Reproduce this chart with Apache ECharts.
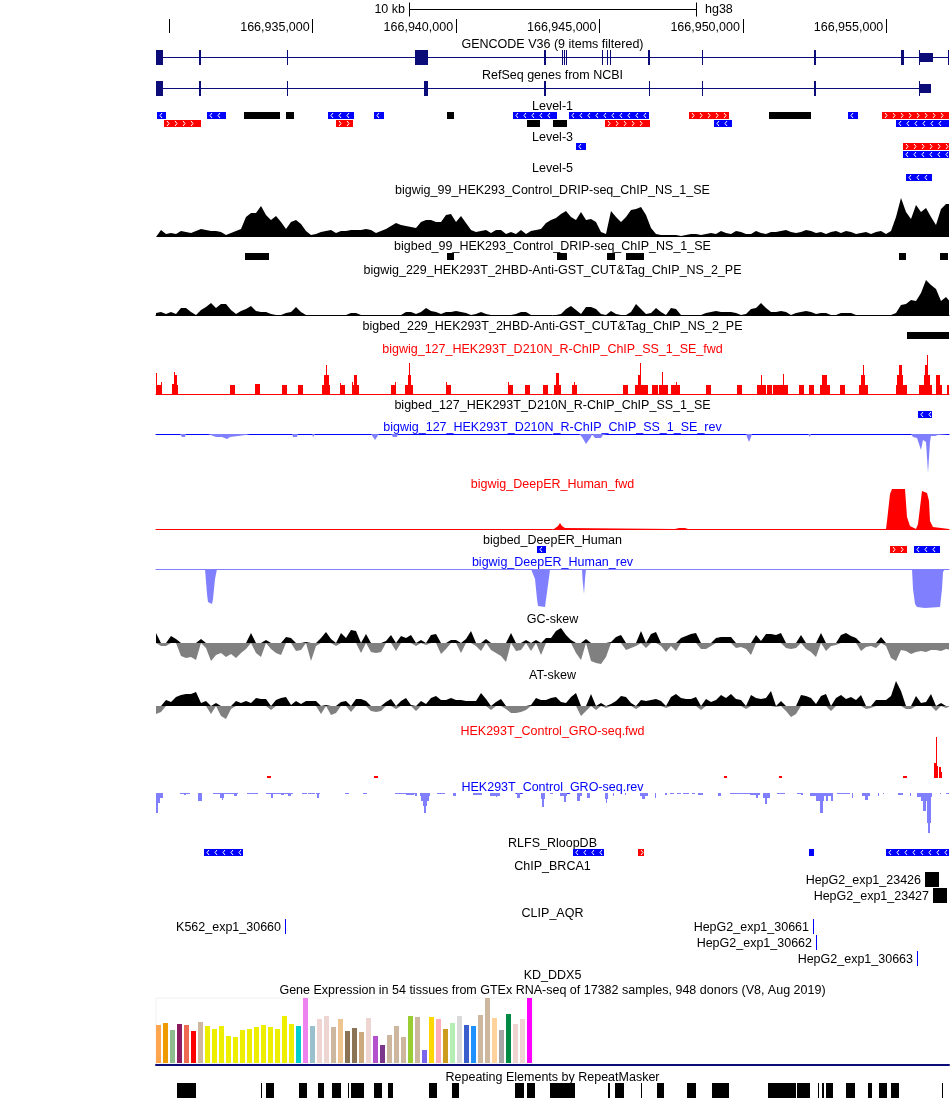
<!DOCTYPE html>
<html><head><meta charset="utf-8">
<style>html,body{margin:0;padding:0;background:#fff}#c{width:950px;height:1099px}</style>
<script src="https://cdn.jsdelivr.net/npm/echarts@6/dist/echarts.min.js"></script></head>
<body><div id="c"></div>
<script>
// Genomic window: 793 display bins of about 34.87 bp each.
const VIEW_START=166929536, BP_PER_BIN=34.868, VIEW_BINS=793, DENSE_STEP=5;
const rulerTicks=[166930000,166935000,166940000,166945000,166950000,166955000];
const rulerLabels=[166935000,166940000,166945000,166950000,166955000];
const scaleBar=[[253.5,10000]];

const gencodeParts=[[0,793,'line'],[0,7,'cds'],[43,45,'cds'],[131,132,'cds'],[259,272,'cds'],[387.5,389.5,'cds'],[406,407,'cds'],[408,409,'cds'],[410,411,'cds'],[446,447,'cds'],[451,452,'cds'],[454,455,'cds'],[491.5,493.5,'cds'],[546,547,'cds'],[658,660,'cds'],[745,748,'cds'],[762.5,764,'cds'],[764,777,'utr'],[791.5,793,'cds']];
const refseqParts=[[0,775,'line'],[0,7,'cds'],[43,45,'cds'],[131,132,'cds'],[268,272,'cds'],[387.5,389.5,'cds'],[492.5,493.5,'cds'],[546,547,'cds'],[658,660,'cds'],[762.5,764,'cds'],[764,775,'utr']];

// [start bin, end bin, strand, lane]
const level1=[[1,10,'-',0],[51,70,'-',0],[88,124,'.',0],[130,138,'.',0],[172,198,'-',0],[218,228,'-',0],[291,298,'.',0],[357,401,'-',0],[413,493,'-',0],[533,573,'+',0],[613,655,'.',0],[692,702,'-',0],[726,793,'+',0],
 [8,45,'+',1],[180,197,'+',1],[371,384,'.',1],[397,411,'.',1],[449,494,'+',1],[558,576,'-',1],[740,793,'-',1]];
const level3=[[420,430,'-',0],[747,793,'+',0],[747,793,'-',1]];
const level5=[[750,776,'-',0]];
const bigbed99=[[89,113,'.',0],[291,298,'.',0],[401,411,'.',0],[451,459,'.',0],[470,488,'.',0],[743,750,'.',0],[784,792,'.',0]];
const bigbed229=[[751,793,'.',0]];
const bigbed127=[[762,776,'-',0]];
const bigbedDeepER=[[381,390,'-',0],[734,751,'+',0],[758,784,'-',0]];
const rloopDB=[[48,87,'-',0],[417,448,'-',0],[482,488,'+',0],[653,658,'-',0],[730,793,'-',0]];
const repeatMasker=[[21,40],[105,106],[110,118],[143,151],[162,168],[176,185],[192,193],[195,208],[218,226],[232,237],[273,281],[296,303],[359,368],[371,379],[394,419],[452,454],[459,468],[485,486],[501,508],[531,540],[556,573],[612,640],[641,654],[662,663],[666,668],[670,677],[690,699],[712,716],[723,731],[735,743],[786,787]].map(r=>[r[0],r[1],'.',0]);
const brca1Items=[[769,783,'.',0,'HepG2_exp1_23426'],[777,791,'.',1,'HepG2_exp1_23427']];
const aqrItems=[[129,130,'b',0,'K562_exp1_30660'],[657,658,'b',0,'HepG2_exp1_30661'],[660,661,'b',1,'HepG2_exp1_30662'],[761,762,'b',2,'HepG2_exp1_30663']];

// Signal heights sampled every DENSE_STEP bins
const drip99=[0,7,3,4,3,6,5,4,6,8,7,6,6,5,2,4,6,8,20,24,24,31,22,17,21,15,8,15,17,13,6,2,3,5,6,7,4,6,6,7,7,7,8,7,4,6,8,11,14,12,11,10,9,15,17,17,15,15,22,23,15,21,14,7,5,6,7,4,7,7,3,5,3,7,3,6,7,8,14,17,19,23,26,20,17,25,17,18,15,5,3,26,20,15,20,27,28,30,22,9,3,2,2,2,2,1,2,3,3,2,3,4,3,6,4,3,6,5,3,3,6,4,3,5,5,6,7,5,4,5,7,6,4,5,3,5,6,4,6,5,3,4,5,3,5,6,3,6,20,39,25,18,32,25,29,20,12,28,33,33];
const cut229=[2,3,1,3,1,7,7,3,0,5,8,12,7,11,11,5,1,4,6,9,4,3,3,1,0,0,2,3,8,3,0,0,0,0,0,0,0,0,0,2,2,0,0,0,0,0,0,0,0,0,3,3,1,3,7,4,3,1,3,3,4,3,2,0,1,3,1,0,0,0,0,0,1,3,3,0,0,0,0,0,0,1,6,9,5,1,8,8,6,1,0,4,1,0,0,3,11,6,1,2,7,3,0,7,6,0,0,0,0,0,2,3,4,3,3,3,2,0,1,6,7,12,7,3,3,4,3,0,2,3,4,3,1,2,2,0,0,2,2,2,0,0,0,0,0,0,0,0,2,10,11,15,14,22,35,30,26,14,18,12];
const gcSkew=[10,-3,-3,7,4,-13,-15,-14,-17,4,-5,-18,-12,-10,-14,-11,-15,-10,-6,10,-10,-14,3,-6,-10,-12,6,5,-8,-7,1,-18,-3,5,11,4,-3,10,5,13,12,-10,9,-9,-10,-9,2,8,-8,7,5,8,-3,3,-2,8,9,-11,-6,3,3,-10,4,12,-3,-8,4,-7,-10,-13,-19,10,-8,-7,3,-8,3,-12,5,
5,12,15,8,3,-10,-17,4,-18,-20,-21,-14,1,6,8,-7,-5,-3,12,-5,9,11,-3,-9,-3,-8,5,7,9,10,-6,-6,-3,5,6,6,6,-5,-4,-6,-12,8,2,9,9,8,10,-5,-6,-5,8,-6,-9,-14,10,-8,-3,-2,8,10,7,5,-8,-4,-3,-5,6,-3,-15,-18,-7,-8,-11,-9,-8,-9,-7,-7,-8,-6,-7];
const atSkew=[-8,-6,6,4,9,11,12,12,14,3,5,-8,3,-10,-13,-3,5,3,5,3,8,7,7,-4,6,8,9,1,5,2,5,5,5,-8,1,-9,-7,4,5,-6,7,7,5,-5,-6,-5,4,7,-3,5,8,1,-5,5,2,8,10,6,6,8,6,6,5,5,5,13,7,-4,4,7,-3,-7,-7,-6,-4,1,8,6,6,
8,9,4,3,9,13,-10,-5,12,-4,3,-2,2,5,10,9,3,-3,6,5,6,7,5,-2,9,12,8,7,7,9,-4,7,4,6,11,8,12,7,6,-3,11,8,7,8,15,-1,5,-5,-11,-8,11,10,8,2,10,12,-5,8,11,7,9,6,11,-3,-2,6,6,6,10,25,15,-3,-3,10,3,4,12,-5,3,-2,2];

// Sparse signal as [bin, height]
const rchipRev=[[0,0],[24,0],[26,3],[27,4],[29,3],[30,0],[52,0],[54,2],[60,3],[66,3],[71,5],[74,3],[76,1],[90,1],[94,0],[136,0],[137,3],[141,3],[142,0],[156,0],[157,3],[159,0],[215,0],[217,2],[219,6],[221,3],[223,0],[235,0],[237,3],[241,3],[242,0],[321,0],[322,2],[323,0],[423,0],[426,3],[430,10],[435,3],[436,0],[439,4],[445,4],[447,1],[452,0],[590,0],[591,3],[593,8],[595,3],[596,0],[627,0],[629,1],[631,0],[652,0],[654,3],[655,0],[755,0],[757,3],[761,4],[763,10],[765,16],[767,6],[769,6],[770,8],[772,39],[774,8],[775,2],[779,2],[780,0],[782,1],[783,0],[793,0]];
const deepFwd=[[0,0],[398,0],[399,1],[402,3],[404,6],[406,3],[409,1],[411,0],[519,0],[523,1],[525,2],[529,1],[532,0],[730,0],[731,8],[734,35],[736,40],[749,40],[751,12],[754,3],[760,0],[762,5],[766,38],[771,36],[773,28],[774,8],[777,2],[793,0]];
const deepRev=[[0,0],[49,0],[51,25],[52,33],[56,35],[57,30],[59,10],[61,0],[375,0],[379,10],[381,30],[382,37],[389,38],[391,38],[394,1],[396,0],[426,0],[426.5,10],[428,25],[429,10],[430,0],[756,0],[757,20],[759,35],[761,38],[769,39],[784,38],[786,20],[787,3],[789,0],[793,0]];

// Blocky signal as [start bin, end bin, height]
const rchipFwd=[[0,1,21],[1,5,9],[5,6,12],[16,18,10],[18,19,22],[19,21,19],[21,22,9],[74,79,9],[99,104,10],[126,131,9],[142,147,9],[166,174,9],[168,170,19],[170,171,29],[171,173,19],[184,189,9],[184,185,11],[196,203,9],[198,201,19],[196,197,12],[235,240,9],[239,240,12],[249,257,9],[252,255,19],[253,254,31],[290,295,9],[290,291,12],[352,357,9],[352,353,12],[369,374,9],[387,392,9],[398,405,9],[400,403,21],[416,421,9],[418,419,12],[467,472,9],[479,492,9],[482,485,19],[484,485,31],[496,502,9],[503,512,9],[506,507,22],[515,524,9],[520,521,12],[550,555,9],[581,586,9],[601,610,9],[605,606,19],[611,616,9],[617,622,9],[622,632,9],[627,628,20],[643,648,9],[653,658,9],[664,674,9],[666,671,19],[684,689,9],[703,712,9],[705,709,19],[707,708,29],[740,751,9],[741,747,19],[743,746,29],[763,776,9],[768,774,19],[769,772,29],[771,772,39],[780,786,9],[780,784,19],[791,793,9]];
const groFwd=[[111,115,2],[218,222,2],[568,571,2],[623,626,2],[747,751,2],[778,780,15],[780,781,41],[781,782,12],[783,785,11],[785,786,6]];
const groRev=[[0,2,20],[2,4,10],[4,7,5],[24,34,1],[28,30,2],[42,46,8],[57,82,1],[64,68,5],[66,67,7],[78,81,3],[91,102,1],[110,137,1],[115,117,5],[125,128,2],[132,135,3],[146,151,1],[152,159,1],[160,164,1],[161,163,5],[189,193,1],[207,211,1],[239,261,1],[250,258,2],[259,261,3],[264,274,3],[265,273,8],[267,271,13],[268,270,20],[281,289,1],[297,300,3],[317,326,2],[334,344,3],[340,341,4],[361,364,5],[385,389,6],[386,388,14],[394,397,1],[404,411,3],[408,410,9],[421,426,3],[421,424,8],[431,434,5],[449,452,6],[450,451,10],[457,458,3],[469,470,2],[484,492,3],[486,489,6],[499,500,5],[509,511,2],[514,518,1],[521,525,1],[527,533,1],[536,539,1],[542,547,2],[562,565,3],[574,594,1],[594,604,2],[600,602,5],[607,614,5],[609,611,11],[621,629,1],[641,647,1],[645,647,2],[654,672,3],[660,668,8],[664,667,20],[669,677,3],[670,672,8],[675,677,8],[681,694,1],[696,697,5],[706,714,3],[709,712,7],[722,723,3],[727,728,1],[742,747,2],[754,755,3],[761,776,4],[765,774,8],[767,770,18],[771,775,30],[772,774,40],[784,785,1],[790,793,1]];

const gtexTissues=['Adipose - Subcutaneous','Adipose - Visceral','Adrenal Gland','Artery - Aorta','Artery - Coronary','Artery - Tibial','Bladder','Brain - Amygdala','Brain - Anterior cingulate','Brain - Caudate','Brain - Cerebellar Hemisphere','Brain - Cerebellum','Brain - Cortex','Brain - Frontal Cortex','Brain - Hippocampus','Brain - Hypothalamus','Brain - Nucleus accumbens','Brain - Putamen','Brain - Spinal cord','Brain - Substantia nigra','Breast','Cells - EBV lymphocytes','Cells - Fibroblasts','Cervix - Ectocervix','Cervix - Endocervix','Colon - Sigmoid','Colon - Transverse','Esophagus - GEJ','Esophagus - Mucosa','Esophagus - Muscularis','Fallopian Tube','Heart - Atrial','Heart - Ventricle','Kidney - Cortex','Kidney - Medulla','Liver','Lung','Salivary Gland','Muscle','Nerve','Ovary','Pancreas','Pituitary','Prostate','Skin - Not exposed','Skin - Exposed','Small Intestine','Spleen','Stomach','Testis','Thyroid','Uterus','Vagina','Whole Blood'];
const gtexValues=[38,40,33,39,38,32,41,37,34,37,27,26,33,34,36,38,36,34,47,39,37,65,37,44,47,36,44,32,35,31,45,27,18,28,37,26,47,46,13,46,44,34,40,47,38,37,48,65,45,33,49,39,44,65];
const gtexColors=['#FFA54F','#EE9A00','#8FBC8F','#8B1C62','#EE6A50','#FF0000','#CDB79E','#EEEE00','#EEEE00','#EEEE00','#EEEE00','#EEEE00','#EEEE00','#EEEE00','#EEEE00','#EEEE00','#EEEE00','#EEEE00','#EEEE00','#EEEE00','#00CDCD','#EE82EE','#9AC0CD','#EED5D2','#EED5D2','#CDB79E','#EEC591','#8B7355','#8B7355','#CDAA7D','#EED5D2','#B452CD','#7A378B','#CDB79E','#CDB79E','#CDB79E','#9ACD32','#CDB79E','#7A67EE','#FFD700','#FFAEB9','#CD9B1D','#B4EEB4','#D9D9D9','#3A5FCD','#1E90FF','#CDB79E','#CDB79E','#FFD39B','#A6A6A6','#008B45','#EED5D2','#EED5D2','#FF00FF'];

const trackLabels=[['GENCODE V36 (9 items filtered)',45,'#000'],['RefSeq genes from NCBI',76,'#000'],['Level-1',107,'#000'],['Level-3',138,'#000'],['Level-5',169,'#000'],['bigwig_99_HEK293_Control_DRIP-seq_ChIP_NS_1_SE',191,'#000'],['bigbed_99_HEK293_Control_DRIP-seq_ChIP_NS_1_SE',247,'#000'],['bigwig_229_HEK293T_2HBD-Anti-GST_CUT&Tag_ChIP_NS_2_PE',271,'#000'],['bigbed_229_HEK293T_2HBD-Anti-GST_CUT&Tag_ChIP_NS_2_PE',327,'#000'],['bigwig_127_HEK293T_D210N_R-ChIP_ChIP_SS_1_SE_fwd',350,'#f00'],['bigbed_127_HEK293T_D210N_R-ChIP_ChIP_SS_1_SE',406,'#000'],['bigwig_127_HEK293T_D210N_R-ChIP_ChIP_SS_1_SE_rev',428,'#00f'],['bigwig_DeepER_Human_fwd',485,'#f00'],['bigbed_DeepER_Human',541,'#000'],['bigwig_DeepER_Human_rev',563,'#00f'],['GC-skew',620,'#000'],['AT-skew',676,'#000'],['HEK293T_Control_GRO-seq.fwd',732,'#f00'],['HEK293T_Control_GRO-seq.rev',788,'#00f'],['RLFS_RloopDB',844,'#000'],['ChIP_BRCA1',867,'#000'],['CLIP_AQR',914,'#000'],['KD_DDX5',976,'#000'],['Gene Expression in 54 tissues from GTEx RNA-seq of 17382 samples, 948 donors (V8, Aug 2019)',991,'#000'],['Repeating Elements by RepeatMasker',1078,'#000']];

const FONT='"Liberation Sans", Arial, sans-serif', FS=12.5, NAVY='#0c0c78', LIGHT='#8080ff';
const VIEW_END=VIEW_START+VIEW_BINS*BP_PER_BIN;
const g=b=>VIEW_START+b*BP_PER_BIN;
const STRAND={'+':'#f00','-':'#00f','.':'#000','b':'#00f'};
const grids=[],xAxes=[],yAxes=[],series=[];
function track(top,height,ymin,ymax,o={}){
  const i=grids.length;
  grids.push({left:156,width:VIEW_BINS,top,height,show:false});
  xAxes.push({gridIndex:i,type:'value',min:VIEW_START,max:VIEW_END,show:!!o.base,position:o.inverse?'top':'bottom',
    axisLine:{show:!!o.base,onZero:false,lineStyle:{color:o.base||'#000',width:1}},axisTick:{show:false},axisLabel:{show:false},splitLine:{show:false}});
  yAxes.push({gridIndex:i,type:'value',min:ymin,max:ymax,inverse:!!o.inverse,show:false,splitLine:{show:false}});
  return i;
}
function area(i,pts,color){
  series.push({type:'line',xAxisIndex:i,yAxisIndex:i,data:pts,showSymbol:false,silent:true,animation:false,
    lineStyle:{width:0},itemStyle:{color},areaStyle:{color,opacity:1},clip:true});
}
const dense=a=>a.map((v,k)=>[g(k*DENSE_STEP),v]);
const sparse=a=>a.map(p=>[g(p[0]),p[1]]);
function blocks(i,list,color){
  series.push({type:'custom',xAxisIndex:i,yAxisIndex:i,silent:true,animation:false,clip:false,
    data:list.map(b=>[g(b[0]),g(b[1]),b[2]]),encode:{x:[0,1],y:2},
    renderItem(p,api){
      const a=api.coord([api.value(0),0]),b=api.coord([api.value(1),api.value(2)]);
      const y=Math.min(a[1],b[1]),h=Math.abs(a[1]-b[1]);
      return {type:'rect',shape:{x:Math.round(a[0]),y,width:Math.max(1,Math.round(b[0]-a[0])),height:h},style:{fill:color}};
    }});
}
function features(top,lanes,laneH,list){
  const i=track(top,lanes*laneH,0,lanes,{inverse:true});
  series.push({type:'custom',xAxisIndex:i,yAxisIndex:i,silent:true,animation:false,clip:false,
    data:list.map(f=>[g(f[0]),g(f[1]),f[3]]),encode:{x:[0,1],y:2},
    renderItem(p,api){
      const idx=p.dataIndex,src=list[idx],strand=src[2],label=src[4];
      const x0=Math.round(api.coord([api.value(0),0])[0]),x1=Math.round(api.coord([api.value(1),0])[0]);
      const y0=api.coord([api.value(0),src[3]])[1];
      const w=Math.max(1,x1-x0),h=laneH-1;
      const kids=[{type:'rect',shape:{x:x0,y:y0,width:w,height:h},style:{fill:STRAND[strand]}}];
      if((strand==='+'||strand==='-')&&w>=6){
        for(let x=x0+2;x<x1-3;x+=8){
          const pts=strand==='-'?[[x+3,y0+1],[x+1,y0+3.5],[x+3,y0+6]]:[[x+1,y0+1],[x+3,y0+3.5],[x+1,y0+6]];
          kids.push({type:'polyline',shape:{points:pts},style:{stroke:'#fff',fill:null,lineWidth:1}});
        }
      }
      if(label) kids.push({type:'text',style:{text:label,x:x0-4,y:y0+h/2+1,align:'right',verticalAlign:'middle',fill:'#000',font:FS+'px '+FONT}});
      return {type:'group',children:kids};
    }});
}
function gene(top,parts){
  const i=track(top,15,0,15);
  series.push({type:'custom',xAxisIndex:i,yAxisIndex:i,silent:true,animation:false,clip:false,
    data:parts.map(f=>[g(f[0]),g(f[1]),0]),encode:{x:[0,1],y:2},
    renderItem(p,api){
      const kind=parts[p.dataIndex][2];
      const x0=Math.round(api.coord([api.value(0),0])[0]),x1=Math.round(api.coord([api.value(1),0])[0]);
      const th=kind==='line'?1:kind==='utr'?9:15;
      return {type:'rect',shape:{x:x0,y:top+(15-th)/2,width:Math.max(1,x1-x0),height:th},style:{fill:NAVY}};
    }});
}

// scale bar
{const i=track(2,15,0,1);
 series.push({type:'custom',xAxisIndex:i,yAxisIndex:i,silent:true,animation:false,clip:false,
  data:scaleBar.map(s=>[g(s[0]),g(s[0])+s[1],0.5]),encode:{x:[0,1],y:2},
  renderItem(p,api){
    const a=api.coord([api.value(0),0.5]),b=api.coord([api.value(1),0.5]);
    const x0=Math.floor(a[0])+.5,x1=Math.floor(b[0])+.5,y=Math.floor(a[1])+.5;
    const st={stroke:'#000',lineWidth:1};
    return {type:'group',children:[
      {type:'line',shape:{x1:x0,y1:y,x2:x1,y2:y},style:st},
      {type:'line',shape:{x1:x0,y1:y-7,x2:x0,y2:y+7},style:st},
      {type:'line',shape:{x1:x1,y1:y-7,x2:x1,y2:y+7},style:st}]};
  }});
}
// ruler
{const i=grids.length;
 grids.push({left:156,width:VIEW_BINS,top:19,height:14,show:false});
 xAxes.push({gridIndex:i,type:'value',min:VIEW_START,max:VIEW_END,position:'bottom',axisLine:{show:false},splitLine:{show:false},
  axisTick:{show:true,inside:true,length:14,customValues:rulerTicks,lineStyle:{color:'#000',width:1}},
  axisLabel:{show:true,inside:true,margin:-1,customValues:rulerLabels,align:'right',verticalAlign:'bottom',padding:[0,3,0,0],color:'#000',fontFamily:FONT,fontSize:FS,
    formatter:v=>String(v).replace(/\B(?=(\d{3})+(?!\d))/g,',')}});
 yAxes.push({gridIndex:i,type:'value',min:0,max:1,show:false,splitLine:{show:false}});
 series.push({type:'line',xAxisIndex:i,yAxisIndex:i,data:[],silent:true});
}
gene(50,gencodeParts);
gene(81,refseqParts);
features(112,2,8,level1);
features(143,2,8,level3);
features(174,1,8,level5);
area(track(197,40,0,40),dense(drip99),'#000');
features(253,1,8,bigbed99);
area(track(276,39,0,39,{base:'#000'}),dense(cut229),'#000');
features(332,1,8,bigbed229);
blocks(track(355,39,0,39,{base:'#f00'}),rchipFwd,'#f00');
features(411,1,8,bigbed127);
area(track(434,39,0,39,{base:'#00f',inverse:true}),sparse(rchipRev),LIGHT);
area(track(489,40,0,40,{base:'#f00'}),sparse(deepFwd),'#f00');
features(546,1,8,bigbedDeepER);
area(track(569,39,0,39,{base:LIGHT,inverse:true}),sparse(deepRev),LIGHT);
{const i=track(625,40,-22,18);
 area(i,dense(gcSkew.map(v=>Math.max(v,0))),'#000');
 area(i,dense(gcSkew.map(v=>Math.min(v,0))),'#808080');}
{const i=track(681,40,-15,25);
 area(i,dense(atSkew.map(v=>Math.max(v,0))),'#000');
 area(i,dense(atSkew.map(v=>Math.min(v,0))),'#808080');}
blocks(track(737,41,0,41),groFwd,'#f00');
blocks(track(793,40,0,40,{inverse:true}),groRev,LIGHT);
features(849,1,8,rloopDB);
features(872,2,16,brca1Items);
features(919,3,16,aqrItems);
// GTEx frame, bars and baseline
{const i=grids.length;
 grids.push({left:156,width:377,top:998,height:65,show:true,borderColor:'#f0f0f0',borderWidth:1,backgroundColor:'transparent'});
 xAxes.push({gridIndex:i,type:'value',min:0,max:1,show:false}); yAxes.push({gridIndex:i,type:'value',min:0,max:1,show:false,splitLine:{show:false}});
 series.push({type:'line',xAxisIndex:i,yAxisIndex:i,data:[],silent:true});
 const j=grids.length;
 grids.push({left:155,width:378,top:998,height:65,show:false});
 xAxes.push({gridIndex:j,type:'category',data:gtexTissues,show:false});
 yAxes.push({gridIndex:j,type:'value',min:0,max:65,show:false,splitLine:{show:false}});
 series.push({type:'bar',xAxisIndex:j,yAxisIndex:j,barWidth:5,silent:true,animation:false,
   data:gtexValues.map((v,k)=>({value:v,itemStyle:{color:gtexColors[k]}}))});
 const m=track(1000,65,0,1,{base:NAVY}); xAxes[m].axisLine.lineStyle.width=2;
 series.push({type:'line',xAxisIndex:m,yAxisIndex:m,data:[],silent:true});
}
features(1083,1,16,repeatMasker);

const graphic=trackLabels.map(t=>({type:'text',silent:true,style:{text:t[0],x:552.5,y:t[1],align:'center',verticalAlign:'middle',fill:t[2],font:FS+'px '+FONT}}));
graphic.push({type:'text',silent:true,style:{text:'10 kb',x:405,y:10,align:'right',verticalAlign:'middle',fill:'#000',font:FS+'px '+FONT}});
graphic.push({type:'text',silent:true,style:{text:'hg38',x:705,y:10,align:'left',verticalAlign:'middle',fill:'#000',font:FS+'px '+FONT}});

const chart=echarts.init(document.getElementById('c'),null,{renderer:'canvas'});
chart.setOption({animation:false,backgroundColor:'#fff',grid:grids,xAxis:xAxes,yAxis:yAxes,series,graphic,tooltip:{show:false}});
</script></body></html>
